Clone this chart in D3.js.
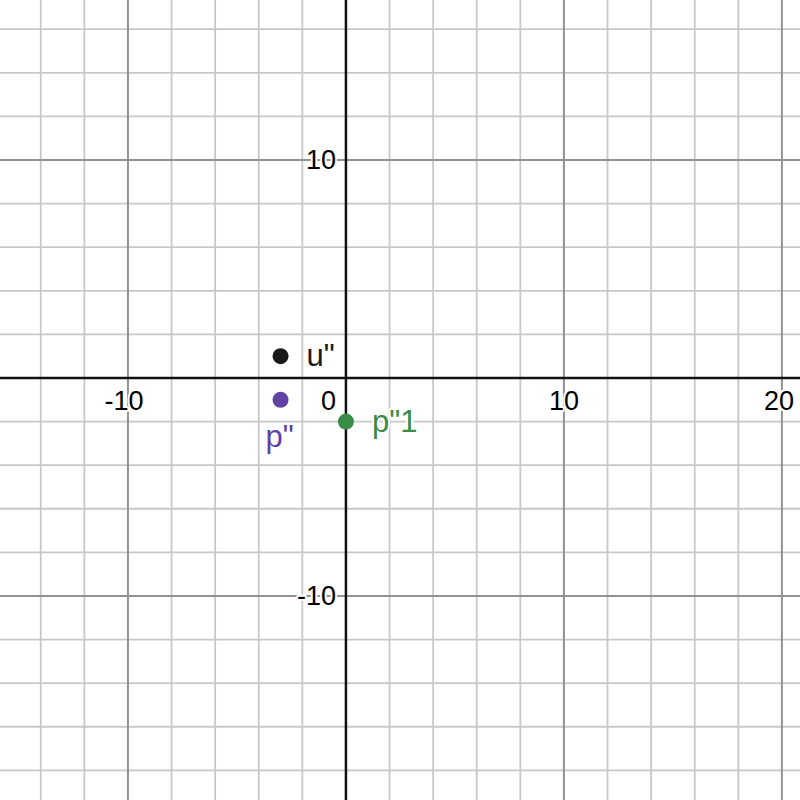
<!DOCTYPE html>
<html><head><meta charset="utf-8">
<script src="https://cdn.jsdelivr.net/npm/d3@7"></script>
<style>html,body{margin:0;padding:0;background:#fff}svg{display:block}</style>
</head><body>
<svg id="c" width="800" height="800"></svg>
<script>
const xDomain = [-15.87, 20.83];
const yDomain = [-19.36, 17.34];
const xTicks = [-10, 10, 20];
const yTicks = [-10, 10];
const pointNames = ['u"', 'p"', 'p"1'];
const pointX = [-3, -3, 0];
const pointY = [1, -1, -2];
const pointColors = ["#1a1a1a", "#6042a6", "#388c46"];

const W = 800, H = 800;
const svg = d3.select("#c");
const x = d3.scaleLinear().domain(xDomain).range([0, W]);
const y = d3.scaleLinear().domain(yDomain).range([H, 0]);

const minorX = d3.range(Math.ceil(xDomain[0] / 2) * 2, xDomain[1], 2).filter(v => v % 10 !== 0);
const minorY = d3.range(Math.ceil(yDomain[0] / 2) * 2, yDomain[1], 2).filter(v => v % 10 !== 0);
const majorX = d3.range(Math.ceil(xDomain[0] / 10) * 10, xDomain[1], 10).filter(v => v !== 0);
const majorY = d3.range(Math.ceil(yDomain[0] / 10) * 10, yDomain[1], 10).filter(v => v !== 0);

const g = svg.append("g");
g.selectAll(".mx").data(minorX).join("line")
  .attr("x1", d => x(d)).attr("x2", d => x(d)).attr("y1", 0).attr("y2", H)
  .attr("stroke", "#c8c8c8").attr("stroke-width", 1.8);
g.selectAll(".my").data(minorY).join("line")
  .attr("y1", d => y(d)).attr("y2", d => y(d)).attr("x1", 0).attr("x2", W)
  .attr("stroke", "#c8c8c8").attr("stroke-width", 1.8);
g.selectAll(".Mx").data(majorX).join("line")
  .attr("x1", d => x(d)).attr("x2", d => x(d)).attr("y1", 0).attr("y2", H)
  .attr("stroke", "#929292").attr("stroke-width", 2);
g.selectAll(".My").data(majorY).join("line")
  .attr("y1", d => y(d)).attr("y2", d => y(d)).attr("x1", 0).attr("x2", W)
  .attr("stroke", "#929292").attr("stroke-width", 2);

// axes
g.append("line").attr("x1", 0).attr("x2", W).attr("y1", y(0)).attr("y2", y(0))
  .attr("stroke", "#111").attr("stroke-width", 2.5);
g.append("line").attr("y1", 0).attr("y2", H).attr("x1", x(0)).attr("x2", x(0))
  .attr("stroke", "#111").attr("stroke-width", 2.5);

const font = "'Liberation Sans', Arial, sans-serif";
const fs = 27;
function halo(sel) {
  sel.attr("font-family", font).attr("font-size", fs)
    .attr("stroke", "#fff").attr("stroke-width", 4).attr("paint-order", "stroke")
    .attr("stroke-linejoin", "round");
  return sel;
}
const xt = halo(g.selectAll(".xt").data(xTicks).join("text")
  .attr("x", d => x(d) + (d < 0 ? -4 : 0)).attr("y", y(0) + 32)
  .attr("text-anchor", "middle").attr("fill", "#000").text(d => d));
// keep labels inside the view
xt.each(function () {
  const b = this.getBBox();
  if (b.x + b.width > W - 6) {
    d3.select(this).attr("x", +d3.select(this).attr("x") - (b.x + b.width - (W - 6)));
  }
});
halo(g.selectAll(".yt").data(yTicks).join("text")
  .attr("x", x(0) - 10).attr("y", d => y(d) + 9)
  .attr("text-anchor", "end").attr("fill", "#000").text(d => d));
halo(g.append("text").attr("x", x(0) - 10).attr("y", y(0) + 32)
  .attr("text-anchor", "end").attr("fill", "#000").text("0"));

// points
const pts = pointNames.map((n, i) => ({ n, x: pointX[i], y: pointY[i], c: pointColors[i] }));
g.selectAll(".pt").data(pts).join("circle")
  .attr("cx", d => x(d.x)).attr("cy", d => y(d.y)).attr("r", 8)
  .attr("fill", d => d.c);

// labels
const labelOffsets = [[26, 10], [-15, 47], [26, 10]];
halo(g.selectAll(".pl").data(pts).join("text")
  .attr("x", (d, i) => x(d.x) + labelOffsets[i][0])
  .attr("y", (d, i) => y(d.y) + labelOffsets[i][1])
  .attr("fill", d => d.c).text(d => d.n))
  .attr("font-size", 31);
</script>
</body></html>
